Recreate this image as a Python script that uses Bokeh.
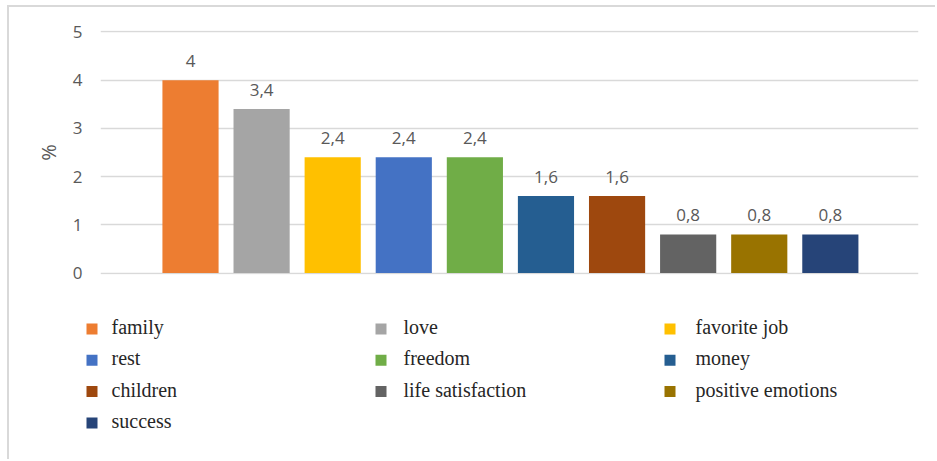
from bokeh.plotting import figure
from bokeh.models import ColumnDataSource, Range1d, FixedTicker
from bokeh.embed import file_html
from bokeh.resources import INLINE
from bokeh.core.properties import value

# Data: share of respondents naming each value (%)
categories = ["family", "love", "favorite job", "rest", "freedom",
              "money", "children", "life satisfaction", "positive emotions", "success"]
values = [4.0, 3.4, 2.4, 2.4, 2.4, 1.6, 1.6, 0.8, 0.8, 0.8]
colors = ["#ED7D31", "#A5A5A5", "#FFC000", "#4472C4", "#70AD47",
          "#255E91", "#9E480E", "#636363", "#997300", "#264478"]
y_ticks = [0, 1, 2, 3, 4, 5]

label_font = value("Open Sans")
grey_text = "#595959"
frame_border = "2px solid #d9d9d9"

# ---- bar chart ----
idx = list(range(len(categories)))
src = ColumnDataSource(dict(
    x=idx,
    top=values,
    color=colors,
    label=[("%g" % v).replace(".", ",") for v in values],
))

p = figure(width=928, height=287, output_backend="svg", toolbar_location=None,
           x_range=Range1d(-1.266, 10.24), y_range=Range1d(-0.03, 5.03),
           min_border_left=91, min_border_right=19, min_border_top=23, min_border_bottom=20,
           margin=(5, 0, 0, 7),
           styles={"border-left": frame_border, "border-top": frame_border})
p.outline_line_color = None
p.background_fill_color = "white"
p.border_fill_color = "white"

p.vbar(x="x", top="top", width=0.79, bottom=0, color="color", line_color=None, source=src)
p.text(x="x", y="top", text="label", source=src, text_align="center",
       text_baseline="bottom", y_offset=-13, text_font=label_font,
       text_font_size="17px", text_color=grey_text)

p.xaxis.visible = False
p.xgrid.grid_line_color = None
p.ygrid.grid_line_color = "#d9d9d9"
p.ygrid.grid_line_width = 1.3
p.ygrid.ticker = FixedTicker(ticks=y_ticks)

ax = p.yaxis[0]
ax.ticker = FixedTicker(ticks=y_ticks)
ax.axis_line_color = None
ax.major_tick_line_color = None
ax.minor_tick_line_color = None
ax.major_tick_out = 0
ax.major_tick_in = 0
ax.minor_tick_out = 0
ax.major_label_standoff = 18
ax.major_label_text_font = "Open Sans"
ax.major_label_text_font_size = "17px"
ax.major_label_text_color = grey_text
ax.axis_label = "%"
ax.axis_label_standoff = 8
ax.axis_label_text_font = "Open Sans"
ax.axis_label_text_font_style = "normal"
ax.axis_label_text_font_size = "20px"
ax.axis_label_text_color = grey_text

# ---- legend, three columns, drawn in page pixel coordinates ----
leg = figure(width=928, height=167, output_backend="svg", toolbar_location=None,
             x_range=Range1d(9, 937), y_range=Range1d(461, 294),
             min_border=0, margin=(0, 0, 0, 7),
             styles={"border-left": frame_border})
leg.outline_line_color = None
leg.axis.visible = False
leg.grid.visible = False
leg.background_fill_color = "white"
leg.border_fill_color = "white"

square_cols = [91.5, 380.5, 669.5]
text_cols = [111, 403, 695]
row_y0, row_step = 330.5, 31.3

lsrc = ColumnDataSource(dict(
    sx=[square_cols[i % 3] for i in idx],
    tx=[text_cols[i % 3] for i in idx],
    y=[row_y0 + row_step * (i // 3) for i in idx],
    color=colors,
    name=categories,
))
leg.scatter(x="sx", y="y", marker="square", size=11, color="color",
            line_color=None, source=lsrc)
leg.text(x="tx", y="y", text="name", source=lsrc, text_align="left",
         text_baseline="middle", y_offset=-2, text_font=value("Liberation Serif"),
         text_font_size="20px", text_color="#262626")

open("out.html", "w").write(file_html((p, leg), INLINE))
